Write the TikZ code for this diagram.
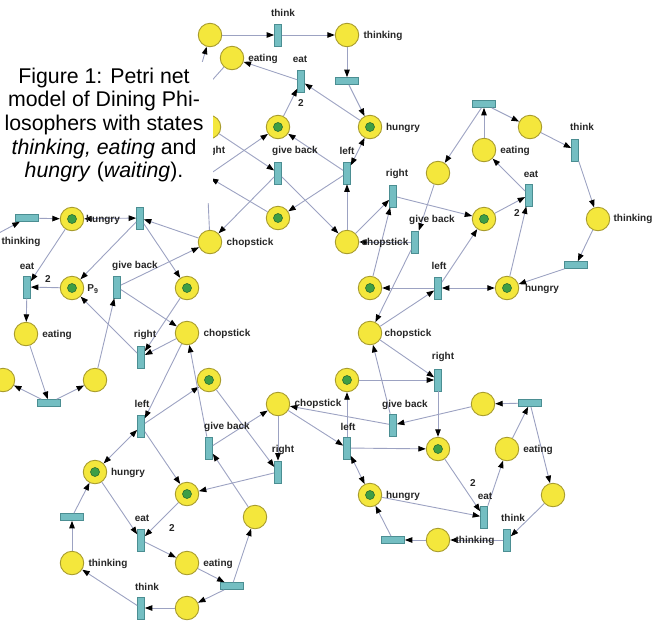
\documentclass[tikz,border=0pt]{standalone}
\usepackage{fontspec}
\setmainfont{Liberation Sans}
\usetikzlibrary{arrows.meta}

\definecolor{plfill}{HTML}{F4E73C}
\definecolor{pldraw}{HTML}{A89C2E}
\definecolor{tkfill}{HTML}{3E9E46}
\definecolor{tkdraw}{HTML}{2C6E30}
\definecolor{trfill}{HTML}{74BEC2}
\definecolor{trdraw}{HTML}{4B8E92}
\definecolor{arccol}{HTML}{9CA2C2}

\tikzset{
  pl/.style={circle, draw=pldraw, fill=plfill, line width=0.9pt, minimum size=23.5pt, inner sep=0pt},
  tk/.style={pl, path picture={\draw[tkdraw, fill=tkfill, line width=0.6pt] (path picture bounding box.center) circle (4.5pt);}},
  tv/.style={rectangle, draw=trdraw, fill=trfill, line width=0.7pt, minimum width=7pt, minimum height=22pt, inner sep=0pt},
  th/.style={tv, minimum width=23pt, minimum height=7pt},
  flow/.style={draw=arccol, line width=0.9pt, -{Triangle[length=7.5pt, width=5.5pt, color=black]}},
  flow2/.style={flow, {Triangle[length=7.5pt, width=5.5pt, color=black]}-{Triangle[length=7.5pt, width=5.5pt, color=black]}},
  lab/.style={font=\fontsize{10}{12}\selectfont\bfseries, text=black!85, inner sep=0pt},
}

\begin{document}
\begin{tikzpicture}[x=1pt, y=-1pt]
  \useasboundingbox (0,0) rectangle (653,622);
  \clip (0,0) rectangle (653,622);

  % chopsticks
  \node[pl] (chop1) at (210,242) {};
  \node[pl] (chop2) at (347,242) {};
  \node[pl] (chop3) at (187,333) {};
  \node[pl] (chop4) at (370,333) {};
  \node[pl] (chop5) at (278,404) {};

  % philosopher on top
  \node[pl] (preA)      at (210,35)  {};
  \node[tv] (thinkA)    at (278,35)  {};
  \node[pl] (thinkingA) at (347,35)  {};
  \node[th] (hzA)       at (347,81)  {};
  \node[tk] (hungryA)   at (370,127) {};
  \node[pl] (eatingA)   at (232,58)  {};
  \node[tv] (eatA)      at (301,81)  {};
  \node[tk] (xA)        at (278,127) {};
  \node[tk] (yA)        at (278,218) {};
  \node[tv] (giveA)     at (278,173) {};
  \node[tv] (leftA)     at (347,173) {};
  \node[tv] (rightA)    at (207,176) {};
  \node[pl] (retA)      at (209,127) {};
  \node[th] (finA)      at (190,105) {};

  % philosopher on the right
  \node[th] (finB)      at (484,104) {};
  \node[pl] (preB)      at (530,127) {};
  \node[tv] (thinkB)    at (575,150) {};
  \node[pl] (thinkingB) at (598,219) {};
  \node[th] (hzB)       at (576,265) {};
  \node[tk] (hungryB)   at (507,288) {};
  \node[pl] (eatingB)   at (484,150) {};
  \node[tv] (eatB)      at (529,195) {};
  \node[tk] (xB)        at (484,219) {};
  \node[pl] (retB)      at (438,173) {};
  \node[tv] (giveB)     at (415,242) {};
  \node[tv] (leftB)     at (438,288) {};
  \node[tv] (rightB)    at (393,196) {};
  \node[tk] (yB)        at (370,288) {};

  % philosopher bottom right
  \node[tv] (leftC)     at (347,448) {};
  \node[tk] (yC)        at (347,380) {};
  \node[tk] (xC)        at (438,449) {};
  \node[tk] (hungryC)   at (370,495) {};
  \node[tv] (eatC)      at (484,517) {};
  \node[pl] (eatingC)   at (507,449) {};
  \node[th] (finC)      at (530,403) {};
  \node[pl] (retC)      at (483,404) {};
  \node[pl] (preC)      at (553,495) {};
  \node[tv] (thinkC)    at (507,540) {};
  \node[pl] (thinkingC) at (438,540) {};
  \node[th] (hzC)       at (393,540) {};
  \node[tv] (giveC)     at (393,425) {};
  \node[tv] (rightC)    at (438,380) {};

  % philosopher bottom left
  \node[tv] (leftD)     at (141,426) {};
  \node[tk] (hungryD)   at (95,472)  {};
  \node[tk] (yD)        at (209,380) {};
  \node[tk] (xD)        at (187,494) {};
  \node[tv] (eatD)      at (141,540) {};
  \node[pl] (eatingD)   at (187,563) {};
  \node[th] (finD)      at (232,586) {};
  \node[pl] (retD)      at (255,517) {};
  \node[pl] (preD)      at (187,608) {};
  \node[tv] (thinkD)    at (141,608) {};
  \node[pl] (thinkingD) at (72,563)  {};
  \node[th] (hzD)       at (72,517)  {};
  \node[tv] (giveD)     at (209,448) {};
  \node[tv] (rightD)    at (278,472) {};

  % philosopher on the left
  \node[pl] (thinkingE) at (-18,242) {};
  \node[tv] (thinkE)    at (-24,315) {};
  \node[th] (hzE)       at (27,218)  {};
  \node[tk] (hungryE)   at (72,219)  {};
  \node[tv] (leftE)     at (140,218) {};
  \node[tk] (xE)        at (72,288)  {};
  \node[tk] (yE)        at (187,288) {};
  \node[tv] (eatE)      at (27,287)  {};
  \node[pl] (eatingE)   at (26,334)  {};
  \node[th] (finE)      at (49,403)  {};
  \node[pl] (preE)      at (3,380)   {};
  \node[pl] (retE)      at (95,380)  {};
  \node[tv] (giveE)     at (117,287) {};
  \node[tv] (rightE)    at (141,357) {};

  % arcs, top
  \draw[flow] (eatingA) -- (finA);
  \draw[flow] (finA) -- (preA);
  \draw[flow] (finA) -- (retA);
  \draw[flow] (preA) -- (thinkA);
  \draw[flow] (thinkA) -- (thinkingA);
  \draw[flow] (thinkingA) -- (hzA);
  \draw[flow] (hzA) -- (hungryA);
  \draw[flow] (hungryA) -- (eatA);
  \draw[flow] (xA) -- (eatA);
  \draw[flow] (eatA) -- (eatingA);
  \draw[flow2] (hungryA) -- (leftA);
  \draw[flow] (chop2) -- (leftA);
  \draw[flow] (leftA) -- (xA);
  \draw[flow] (leftA) -- (yA);
  \draw[flow] (yA) -- (rightA);
  \draw[flow] (chop1) -- (rightA);
  \draw[flow] (rightA) -- (xA);
  \draw[flow] (retA) -- (giveA);
  \draw[flow] (giveA) -- (chop1);
  \draw[flow] (giveA) -- (chop2);

  % arcs, right
  \draw[flow] (eatingB) -- (finB);
  \draw[flow] (finB) -- (preB);
  \draw[flow] (finB) -- (retB);
  \draw[flow] (preB) -- (thinkB);
  \draw[flow] (thinkB) -- (thinkingB);
  \draw[flow] (thinkingB) -- (hzB);
  \draw[flow] (hzB) -- (hungryB);
  \draw[flow] (hungryB) -- (eatB);
  \draw[flow] (xB) -- (eatB);
  \draw[flow] (eatB) -- (eatingB);
  \draw[flow2] (hungryB) -- (leftB);
  \draw[flow] (chop4) -- (leftB);
  \draw[flow] (leftB) -- (xB);
  \draw[flow] (leftB) -- (yB);
  \draw[flow] (yB) -- (rightB);
  \draw[flow] (chop2) -- (rightB);
  \draw[flow] (rightB) -- (xB);
  \draw[flow] (retB) -- (giveB);
  \draw[flow] (giveB) -- (chop2);
  \draw[flow] (giveB) -- (chop4);

  % arcs, bottom right
  \draw[flow] (eatingC) -- (finC);
  \draw[flow] (finC) -- (retC);
  \draw[flow] (finC) -- (preC);
  \draw[flow] (preC) -- (thinkC);
  \draw[flow] (thinkC) -- (thinkingC);
  \draw[flow] (thinkingC) -- (hzC);
  \draw[flow] (hzC) -- (hungryC);
  \draw[flow] (hungryC) -- (eatC);
  \draw[flow] (xC) -- (eatC);
  \draw[flow] (eatC) -- (eatingC);
  \draw[flow2] (hungryC) -- (leftC);
  \draw[flow] (chop5) -- (leftC);
  \draw[flow] (leftC) -- (xC);
  \draw[flow] (leftC) -- (yC);
  \draw[flow] (yC) -- (rightC);
  \draw[flow] (chop4) -- (rightC);
  \draw[flow] (rightC) -- (xC);
  \draw[flow] (retC) -- (giveC);
  \draw[flow] (giveC) -- (chop4);
  \draw[flow] (giveC) -- (chop5);

  % arcs, bottom left
  \draw[flow] (eatingD) -- (finD);
  \draw[flow] (finD) -- (retD);
  \draw[flow] (finD) -- (preD);
  \draw[flow] (preD) -- (thinkD);
  \draw[flow] (thinkD) -- (thinkingD);
  \draw[flow] (thinkingD) -- (hzD);
  \draw[flow] (hzD) -- (hungryD);
  \draw[flow] (hungryD) -- (eatD);
  \draw[flow] (xD) -- (eatD);
  \draw[flow] (eatD) -- (eatingD);
  \draw[flow2] (hungryD) -- (leftD);
  \draw[flow] (chop3) -- (leftD);
  \draw[flow] (leftD) -- (xD);
  \draw[flow] (leftD) -- (yD);
  \draw[flow] (yD) -- (rightD);
  \draw[flow] (chop5) -- (rightD);
  \draw[flow] (rightD) -- (xD);
  \draw[flow] (retD) -- (giveD);
  \draw[flow] (giveD) -- (chop3);
  \draw[flow] (giveD) -- (chop5);

  % arcs, left
  \draw[flow] (eatingE) -- (finE);
  \draw[flow] (finE) -- (preE);
  \draw[flow] (finE) -- (retE);
  \draw[flow] (preE) -- (thinkE);
  \draw[flow] (thinkE) -- (thinkingE);
  \draw[flow] (thinkingE) -- (hzE);
  \draw[flow] (hzE) -- (hungryE);
  \draw[flow] (hungryE) -- (eatE);
  \draw[flow] (xE) -- (eatE);
  \draw[flow] (eatE) -- (eatingE);
  \draw[flow2] (hungryE) -- (leftE);
  \draw[flow] (chop1) -- (leftE);
  \draw[flow] (leftE) -- (xE);
  \draw[flow] (leftE) -- (yE);
  \draw[flow] (yE) -- (rightE);
  \draw[flow] (chop3) -- (rightE);
  \draw[flow] (rightE) -- (xE);
  \draw[flow] (retE) -- (giveE);
  \draw[flow] (giveE) -- (chop1);
  \draw[flow] (giveE) -- (chop3);

  % labels
  \node[lab] at (250,243) {chopstick};
  \node[lab] at (385,243) {chopstick};
  \node[lab] at (227,334) {chopstick};
  \node[lab] at (408,334) {chopstick};
  \node[lab] at (318,404) {chopstick};

  \node[lab] at (283,13)  {think};
  \node[lab] at (383,36)  {thinking};
  \node[lab] at (263,59)  {eating};
  \node[lab] at (300,59)  {eat};
  \node[lab] at (301,103) {2};
  \node[lab] at (403,128) {hungry};
  \node[lab] at (295,151) {give back};
  \node[lab] at (347,151) {left};
  \node[lab] at (214,151) {right};

  \node[lab] at (582,127) {think};
  \node[lab] at (633,219) {thinking};
  \node[lab] at (515,151) {eating};
  \node[lab] at (531,174) {eat};
  \node[lab] at (517,213) {2};
  \node[lab] at (542,289) {hungry};
  \node[lab] at (432,220) {give back};
  \node[lab] at (439,266) {left};
  \node[lab] at (397,174) {right};

  \node[lab] at (348,427) {left};
  \node[lab] at (443,357) {right};
  \node[lab] at (405,405) {give back};
  \node[lab] at (403,496) {hungry};
  \node[lab] at (485,496) {eat};
  \node[lab] at (473,483) {2};
  \node[lab] at (538,450) {eating};
  \node[lab] at (513,518) {think};
  \node[lab] at (475,541) {thinking};

  \node[lab] at (142,404) {left};
  \node[lab] at (128,473) {hungry};
  \node[lab] at (142,518) {eat};
  \node[lab] at (172,528) {2};
  \node[lab] at (218,564) {eating};
  \node[lab] at (147,587) {think};
  \node[lab] at (108,564) {thinking};
  \node[lab] at (227,427) {give back};
  \node[lab] at (283,450) {right};

  \node[lab] at (21,242)  {thinking};
  \node[lab] at (103,220) {hungry};
  \node[lab] at (27,266)  {eat};
  \node[lab] at (48,279)  {2};
  \node[lab] at (93,289)  {P\textsubscript{9}};
  \node[lab] at (135,266) {give back};
  \node[lab] at (145,335) {right};
  \node[lab] at (57,335)  {eating};

  % caption
  \fill[white] (0,62) rectangle (213,203);
  \node[font=\fontsize{21.3}{23.7}\selectfont, align=center, inner sep=0pt] (caption) at (104,125)
    {Figure 1: Petri net\\ model of Dining Phi-\\ losophers with states\\ \textit{thinking, eating} and\\ \textit{hungry} (\textit{waiting}).};
\end{tikzpicture}
\end{document}
